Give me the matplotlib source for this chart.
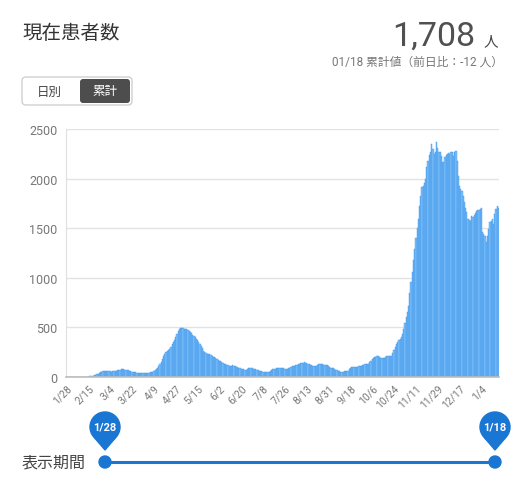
import numpy as np
import pandas as pd
import matplotlib
matplotlib.use("Agg")
import matplotlib.pyplot as plt
from matplotlib.patches import FancyBboxPatch, Circle, Polygon

plt.rcParams['font.family'] = ['Roboto', 'Noto Sans CJK JP', 'DejaVu Sans']

# data: current patients, daily, 2020-01-28 .. 2021-01-18
start_date = "2020-01-28"
end_date = "2021-01-18"
patients = [
    1, 1, 1, 1, 1, 1, 1, 1, 1, 1, 1, 1, 1, 1,            # 1/28-2/10
    2, 2, 3, 4, 5, 7, 9,                                  # 2/11-2/17
    11, 13, 16, 20, 28, 35, 42, 50, 55,                   # 2/18-2/26
    58, 60, 59, 57, 56, 58, 57, 55, 56, 58, 60, 62,       # 2/27-3/9
    66, 70, 74, 77, 78, 76, 75, 72, 70,                   # 3/10-3/18
    66, 62, 58, 55, 52, 49, 47,                           # 3/19-3/25
    45, 43, 42, 42, 41, 43, 44, 42, 43, 44, 45, 46, 48,   # 3/26-4/7
    55, 62, 70, 80, 95, 110, 131, 155, 185, 210, 232, 250,
    262, 272, 282, 305, 330, 350, 375, 400, 433, 460, 480, 490,
    494, 492, 488, 486, 484, 475, 462,
    450, 440, 425, 412, 400, 385, 368, 350, 333, 315, 290, 265, 249,
    240, 236, 234, 232,
    225, 215, 205, 198, 190, 180, 172, 165, 158, 150, 142, 135, 131,
    125, 118, 115, 114, 115, 116, 115, 114, 105, 97, 92, 88,
    85, 82, 78, 75, 74, 80, 90, 95, 92, 88, 85, 83, 81, 75, 68, 65, 64,
    60, 55, 50, 48, 47, 48, 52, 60, 70, 78, 81, 84, 88, 90, 91,
    91, 90, 92, 88, 84, 80, 81, 88, 95, 102, 110, 114, 115, 118, 122, 128, 131,
    138, 143, 146, 148, 142, 138, 132, 128, 124, 118, 112, 110, 108, 115, 122, 128, 131,
    130, 128, 126, 124, 121, 116, 108, 100, 95, 90, 88, 80, 72, 66, 60, 57,
    55, 54, 55, 56, 57, 58, 65, 78, 90, 100, 104, 102, 100, 102, 105, 107,
    108, 112, 118, 124, 128, 131,
    132, 135, 150, 165, 180, 190, 198, 205, 208, 208, 200, 195, 190, 188,
    195, 205, 207, 208, 210, 212, 215,
    240, 270, 300, 333, 350, 370, 385, 400, 430, 480, 540,
    600, 660, 719, 850, 955, 1055, 1180, 1290, 1400, 1500, 1593, 1720, 1828,
    1912, 1930, 1960, 1996, 2114, 2180, 2240, 2265, 2349, 2300, 2248, 2265, 2366,
    2310, 2271, 2265, 2230, 2170, 2164, 2215, 2240, 2248, 2255, 2248, 2265,
    2271, 2230, 2271,
    2281, 2180, 2029, 1929, 1900, 1878, 1828, 1761, 1700, 1660, 1593, 1580,
    1576, 1620, 1610, 1630, 1653, 1677, 1680, 1687, 1694, 1700,
    1458, 1440, 1425, 1358, 1420, 1492, 1560, 1575, 1593, 1542, 1643, 1690,
    1720, 1708,
]
yticks = [0, 500, 1000, 1500, 2000, 2500]
latest = 1708
diff = -12

dates = pd.date_range(start_date, end_date, freq="D")
n = len(dates)
patients = patients[:n] + [patients[-1]] * (n - len(patients))
labels = [f"{d.month}/{d.day}" for d in dates]
tick_idx = list(range(0, n, 18))

W, H = 527, 485
fig = plt.figure(figsize=(W / 100, H / 100), dpi=100)

ax = fig.add_axes([66 / W, 1 - 378 / H, (499 - 66) / W, (378 - 130) / H])
ax.bar(np.arange(n), patients, width=1.0, color='#80c0f8',
       edgecolor='#3a95ea', linewidth=0.3, zorder=2)
ax.set_xlim(-0.5, n - 0.5)
ax.set_ylim(0, 2500)
ax.set_yticks(yticks)
ax.set_yticklabels([str(v) for v in yticks], fontsize=9, color='#777777')
ax.set_xticks(tick_idx)
ax.set_xticklabels([labels[i] for i in tick_idx], rotation=45, ha='right',
                   va='top', rotation_mode='anchor', fontsize=7.5,
                   color='#777777')
ax.tick_params(axis='both', length=0, pad=6)
ax.tick_params(axis='x', pad=4)
ax.grid(axis='y', color='#e3e3e3', linewidth=1, zorder=0)
ax.set_axisbelow(True)
for s in ['top', 'right']:
    ax.spines[s].set_visible(False)
ax.spines['left'].set_color('#e0e0e0')
ax.spines['bottom'].set_color('#bdbdbd')
ax.spines['bottom'].set_linewidth(1.2)

# overlay in pixel coords for header and slider
ov = fig.add_axes([0, 0, 1, 1], zorder=5)
ov.set_xlim(0, W)
ov.set_ylim(H, 0)
ov.axis('off')
ov.patch.set_alpha(0)

ov.text(22, 34, "現在患者数", fontsize=14, color='#333333', va='center', ha='left')
ov.text(475, 46, f"{latest:,}", fontsize=24.5, color='#505050', ha='right',
        va='baseline')
ov.text(491, 46, "人", fontsize=10.5, color='#444444', ha='center', va='baseline')
ov.text(503, 62, f"01/18 累計値（前日比：{diff} 人）", fontsize=8.5,
        color='#777777', ha='right', va='center')

ov.add_patch(FancyBboxPatch((22, 78), 110, 28, boxstyle="round,pad=0,rounding_size=4",
                            facecolor='white', edgecolor='#d0d0d0', linewidth=1))
ov.add_patch(FancyBboxPatch((80, 80), 50, 24, boxstyle="round,pad=0,rounding_size=3",
                            facecolor='#4d4d4d', edgecolor='none'))
ov.text(49, 92, "日別", fontsize=9, color='#444444', ha='center', va='center')
ov.text(105, 92, "累計", fontsize=9, color='white', ha='center', va='center')

# period slider
blue = '#1976d2'
x0, x1, ys = 105, 495, 463
ov.text(22, ys, "表示期間", fontsize=11.5, color='#444444', ha='left', va='center')
ov.plot([x0, x1], [ys, ys], color=blue, linewidth=2.2, solid_capstyle='butt')
for xp, lab in [(x0, labels[0]), (x1, labels[-1])]:
    ov.add_patch(Circle((xp, ys), 6, color=blue))
    ov.add_patch(Circle((xp, 428), 15, color=blue))
    ov.add_patch(Polygon([(xp - 10.6, 438.6), (xp + 10.6, 438.6), (xp, 451)],
                         closed=True, color=blue))
    ov.text(xp, 428, lab, fontsize=8, color='white', fontweight='bold',
            ha='center', va='center')

fig.savefig("out.png", dpi=100)
